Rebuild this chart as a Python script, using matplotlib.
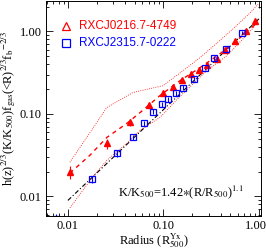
import matplotlib
matplotlib.use("Agg")
import matplotlib.pyplot as plt
import matplotlib.transforms as mtransforms

# RXCJ0216.7-4749 (red triangles)
r_red = [0.0105, 0.0256, 0.0446, 0.0705, 0.099, 0.126, 0.156, 0.194, 0.236,
         0.284, 0.363, 0.441, 0.561, 0.731, 0.907]
k_red = [0.0197, 0.0441, 0.079, 0.127, 0.177, 0.214, 0.26, 0.308, 0.344,
         0.395, 0.466, 0.598, 0.769, 1.01, 1.34]
err_red = [0.0035, 0.006, 0.008, 0.01, 0.012, 0.012, 0.014, 0.016, 0.016,
           0.018, 0.02, 0.025, 0.03, 0.04, 0.05]

# RXCJ2315.7-0222 (blue squares)
r_blue = [0.0075, 0.0178, 0.0326, 0.048, 0.0625, 0.0777, 0.0964, 0.111, 0.135,
          0.16, 0.208, 0.272, 0.338, 0.451, 0.664]
k_blue = [0.0053, 0.01625, 0.0334, 0.052, 0.0768, 0.107, 0.132, 0.15, 0.177,
          0.209, 0.268, 0.363, 0.48, 0.615, 0.959]
err_blue = [0.0008, 0.0015, 0.003, 0.004, 0.006, 0.008, 0.009, 0.01, 0.012,
            0.013, 0.016, 0.02, 0.025, 0.03, 0.04]

# red median (dashed) and envelope (dotted)
r_med = [0.0105, 0.017, 0.0256, 0.0415, 0.057, 0.092, 0.149, 0.241, 0.391, 0.632, 0.953]
k_med = [0.0192, 0.0316, 0.052, 0.077, 0.104, 0.167, 0.253, 0.363, 0.536, 0.835, 1.266]
r_up = [0.0105, 0.0256, 0.048, 0.0989, 0.16, 0.241, 0.355, 0.534, 0.805, 0.98]
k_up = [0.026, 0.12, 0.182, 0.22, 0.334, 0.48, 0.707, 1.07, 1.67, 2.14]
r_lo = [0.0105, 0.0178, 0.0256, 0.0415, 0.057, 0.092, 0.149, 0.284, 0.46, 0.68, 0.907]
k_lo = [0.00727, 0.0167, 0.0275, 0.0441, 0.0633, 0.0908, 0.163, 0.334, 0.507, 0.812, 1.165]

# baseline K/K500 = 1.42 (R/R500)^1.1
norm, slope = 1.42, 1.1
r_base = [0.01, 1.0]

plt.rcParams['font.family'] = ['Liberation Serif', 'DejaVu Serif']
plt.rcParams['mathtext.fontset'] = 'stix'

fig = plt.figure(figsize=(2.66, 2.49), dpi=100)
ax = fig.add_axes([0.173, 0.1325, 0.808, 0.863])

ax.plot(r_base, [norm * r ** slope for r in r_base], color='black', lw=0.8, dashes=(4, 2, 1, 2))
ax.plot(r_up, k_up, color='red', ls=':', lw=0.6)
ax.plot(r_lo, k_lo, color='red', ls=':', lw=0.6)
ax.plot(r_med, k_med, color='red', lw=1.0, dashes=(3, 3))

ax.errorbar(r_red, k_red, yerr=err_red, fmt='^', color='red', ms=5, elinewidth=0.8,
            capsize=0, mec='red', mfc='red')
ax.errorbar(r_blue, k_blue, yerr=err_blue, fmt='s', color='blue', ms=5, elinewidth=0.8,
            capsize=0, mec='blue', mfc='none', mew=0.9)

ax.set_xscale('log')
ax.set_yscale('log')
ax.set_xlim(0.0059, 1.05)
ax.set_ylim(0.0058, 2.33)
ax.set_xticks([0.01, 0.1, 1.0])
ax.set_xticklabels(['0.01', '0.10', '1.00'])
ax.set_yticks([0.01, 0.1, 1.0])
ax.set_yticklabels(['0.01', '0.10', '1.00'])
ax.tick_params(which='both', direction='in', top=True, right=True, labelsize=9, width=0.6, pad=3)
ax.tick_params(which='major', length=5)
ax.tick_params(which='minor', length=2.5)
for s in ax.spines.values():
    s.set_linewidth(0.7)

# nudge the last x tick label so it stays inside the figure
last = ax.get_xticklabels()[-1]
last.set_transform(last.get_transform() + mtransforms.ScaledTranslation(-3 / 100, 0, fig.dpi_scale_trans))

ax.set_xlabel(r'Radius (R$_{500}^{\mathrm{Yx}}$)', fontsize=9, labelpad=-1)
ax.set_ylabel(r'h(z)$^{2/3}$(K/K$_{500}$)f$_{\mathrm{gas}}$(<R)$^{2/3}$f$_{\mathrm{b}}$$^{-2/3}$',
              fontsize=9, labelpad=1)

# legend
ax.plot([0.095], [0.885], marker='^', ms=6, mfc='none', mec='red', mew=0.9,
        transform=ax.transAxes, ls='none')
ax.text(0.155, 0.885, 'RXCJ0216.7-4749', color='red', fontsize=8.5, va='center',
        family='Liberation Sans', transform=ax.transAxes)
ax.plot([0.095], [0.805], marker='s', ms=6, mfc='none', mec='blue', mew=0.9,
        transform=ax.transAxes, ls='none')
ax.text(0.155, 0.805, 'RXCJ2315.7-0222', color='blue', fontsize=8.5, va='center',
        family='Liberation Sans', transform=ax.transAxes)

ax.text(0.335, 0.09, r'K/K$_{500}$=1.42$\ast$(R/R$_{500}$)$^{1.1}$', fontsize=9,
        transform=ax.transAxes)

fig.savefig('out.png', dpi=100)
